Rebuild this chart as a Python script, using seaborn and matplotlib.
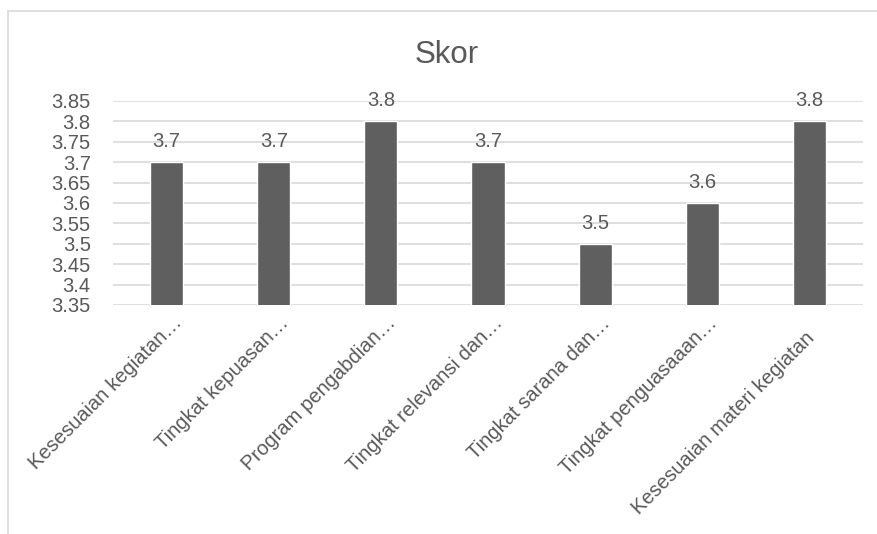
import matplotlib
matplotlib.use("Agg")
import matplotlib.pyplot as plt
import matplotlib.transforms as mtransforms
from matplotlib.lines import Line2D
import numpy as np
import pandas as pd
import seaborn as sns

# Survey score per aspect
categories = [
    "Kesesuaian kegiatan\u2026",
    "Tingkat kepuasan\u2026",
    "Program pengabdian\u2026",
    "Tingkat relevansi dan\u2026",
    "Tingkat sarana dan\u2026",
    "Tingkat penguasaaan\u2026",
    "Kesesuaian materi kegiatan",
]
scores = [3.7, 3.7, 3.8, 3.7, 3.5, 3.6, 3.8]
y_ticks = [3.35, 3.4, 3.45, 3.5, 3.55, 3.6, 3.65, 3.7, 3.75, 3.8, 3.85]
y_tick_labels = ["3.35", "3.4", "3.45", "3.5", "3.55", "3.6", "3.65", "3.7", "3.75", "3.8", "3.85"]
title = "Skor"

sns.set_theme(style="white")
plt.rcParams["font.family"] = ["Liberation Sans", "DejaVu Sans"]

TEXT = "#595959"
GRID = "#d9d9d9"
BAR = "#5f5f5f"
FS = 14.5

df = pd.DataFrame({"aspek": categories, "skor": scores})

W, H = 878, 534
fig = plt.figure(figsize=(W / 100, H / 100), dpi=100)
ax = fig.add_axes([113 / W, 1 - 305 / H, (863 - 113) / W, (305 - 101) / H])

sns.barplot(data=df, x="aspek", y="skor", color=BAR, saturation=1,
            width=0.31, ax=ax, zorder=3)

ax.set_ylim(y_ticks[0], y_ticks[-1])
ax.set_xlim(-0.5, len(categories) - 0.5)
ax.set_yticks(y_ticks)
ax.set_yticklabels(y_tick_labels, fontsize=FS, color=TEXT)
ax.yaxis.grid(True, color=GRID, linewidth=1.2, zorder=0)
ax.set_axisbelow(True)
ax.tick_params(axis="y", length=0, pad=16)
ax.tick_params(axis="x", length=0, pad=0)
for s in ax.spines.values():
    s.set_visible(False)
ax.set_xlabel("")
ax.set_ylabel("")

ax.set_xticks(range(len(categories)))
ax.set_xticklabels(categories, rotation=45, ha="right", va="center",
                   rotation_mode="anchor", fontsize=FS, color=TEXT)
# shortened labels sit closer to the axis than full-length ones
for lab in ax.get_xticklabels():
    if lab.get_text().endswith("\u2026"):
        dx, dy = 12, -15
    else:
        dx, dy = 2, -30
    off = mtransforms.ScaledTranslation(dx / 100, dy / 100, fig.dpi_scale_trans)
    lab.set_transform(lab.get_transform() + off)

# value labels above each bar
for i, v in enumerate(scores):
    ax.annotate(f"{v:g}", xy=(i, v), xytext=(0, 11), textcoords="offset points",
                ha="center", va="baseline", fontsize=FS, color=TEXT,
                annotation_clip=False)

fig.text(447 / W, 1 - 63 / H, title, ha="center", va="baseline",
         fontsize=22.5, color=TEXT)

# chart area border (top and left edges)
fig.add_artist(Line2D([8 / W, 8 / W], [1 - 11 / H, 0], transform=fig.transFigure,
                      color=GRID, linewidth=1.2))
fig.add_artist(Line2D([8 / W, 1], [1 - 11 / H, 1 - 11 / H], transform=fig.transFigure,
                      color=GRID, linewidth=1.2))

fig.savefig("out.png", dpi=100, facecolor="white")
